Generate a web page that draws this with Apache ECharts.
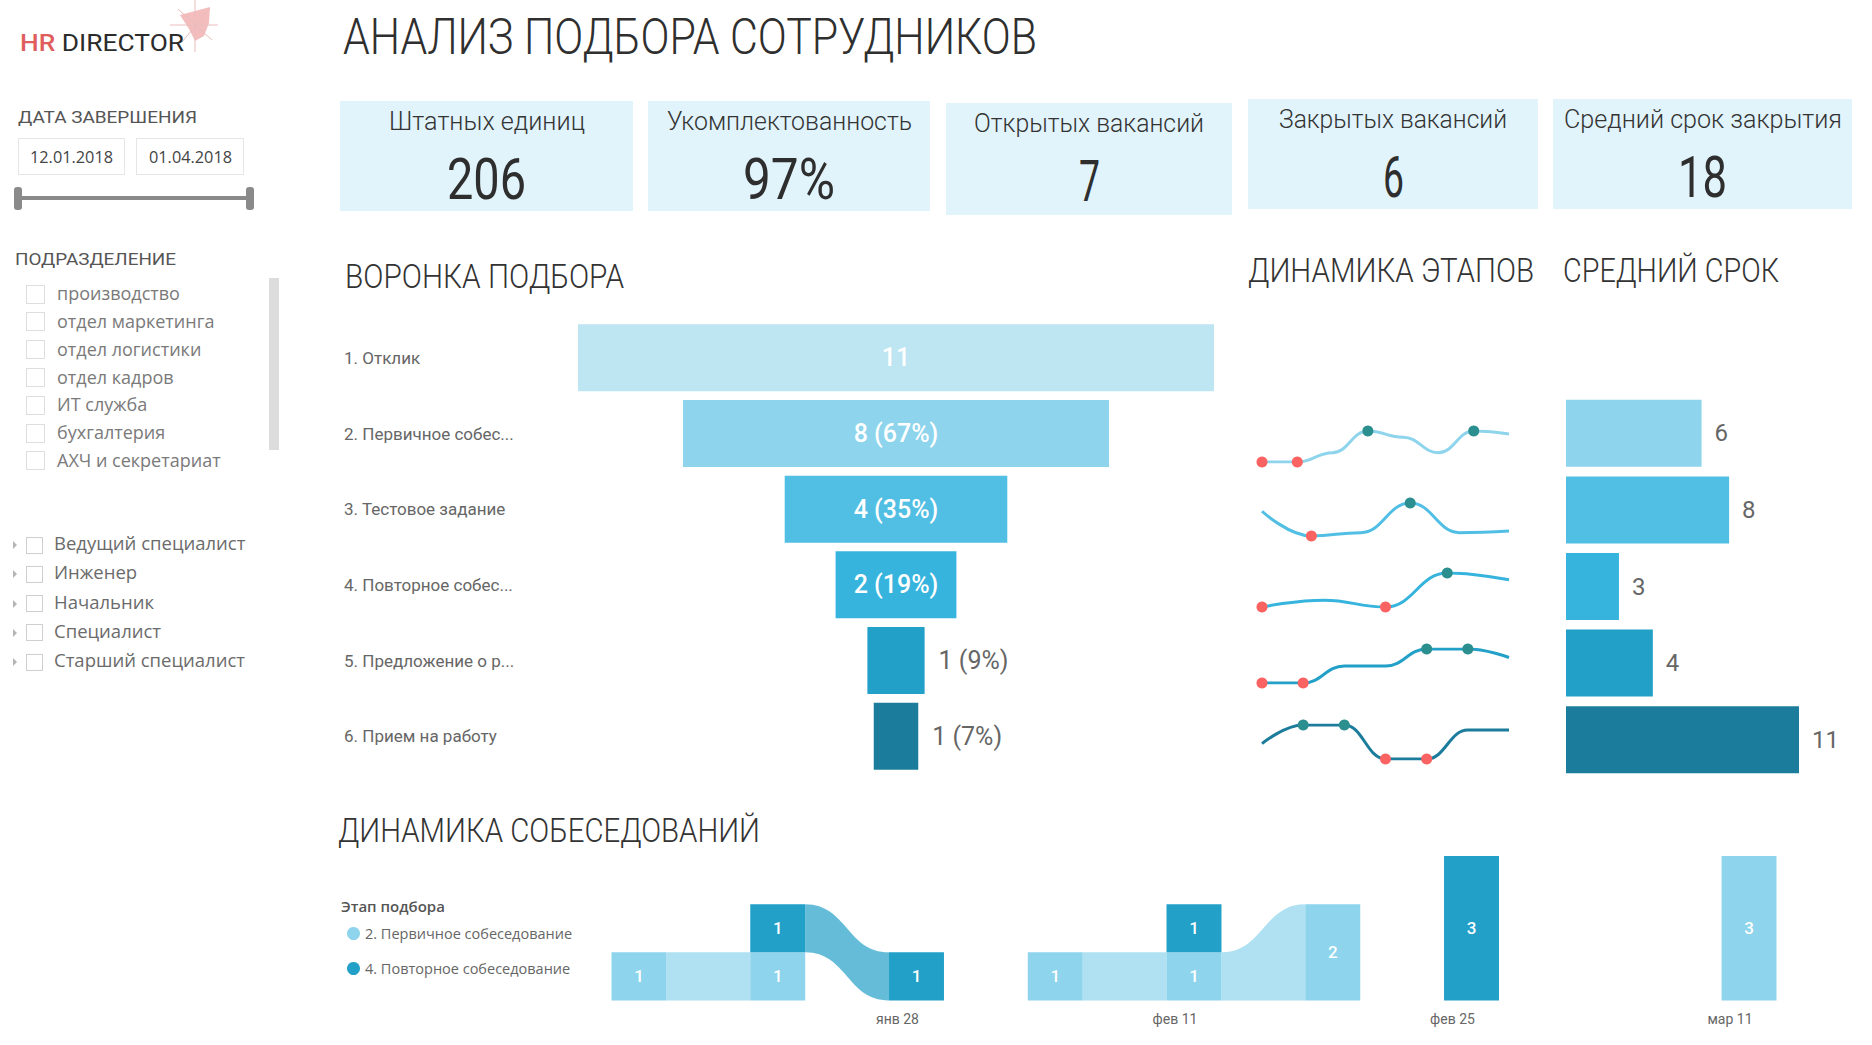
<!DOCTYPE html>
<html><head><meta charset="utf-8">
<script src="https://cdn.jsdelivr.net/npm/echarts@6/dist/echarts.min.js"></script>
<style>
html,body{margin:0;padding:0;background:#fff;width:1872px;height:1045px;overflow:hidden;font-family:Roboto,sans-serif}
#chart{position:absolute;left:0;top:0;width:1872px;height:1045px;z-index:0}
.t{position:absolute;white-space:nowrap;line-height:1;z-index:3}
.card{position:absolute;background:#e1f3fb;z-index:1}
.box{position:absolute;border:1px solid #e6e6e6;box-sizing:border-box;background:#fff;z-index:1}
.cb{position:absolute;box-sizing:border-box;background:#fff;z-index:2}
</style></head><body>
<div id="chart"></div>
<script>
// ---------- data ----------
const pageTitle = 'АНАЛИЗ ПОДБОРА СОТРУДНИКОВ';
const kpiLabels = ['Штатных единиц','Укомплектованность','Открытых вакансий','Закрытых вакансий','Средний срок закрытия'];
const kpiValues = ['206','97%','7','6','18'];
const dateFrom = '12.01.2018';
const dateTo = '01.04.2018';
const departments = ['производство','отдел маркетинга','отдел логистики','отдел кадров','ИТ служба','бухгалтерия','АХЧ и секретариат'];
const positions = ['Ведущий специалист','Инженер','Начальник','Специалист','Старший специалист'];
const stages = ['1. Отклик','2. Первичное собес...','3. Тестовое задание','4. Повторное собес...','5. Предложение о р...','6. Прием на работу'];
const funnelCounts = [11, 8, 4, 2, 1, 1];
const funnelPct = [100, 67, 35, 19, 9, 7];
const trendStage2 = [1, 1, 1.3, 2, 1.8, 1.3, 2, 1.9];
const trendStage3 = [1.75, 1, 1.1, 2, 1.1, 1.15];
const trendStage4 = [1, 1.2, 1, 2, 1.8];
const trendStage5 = [1, 1, 1.5, 1.5, 2, 2, 1.75];
const trendStage6 = [1.45, 2, 2, 1, 1, 1.85, 1.85];
const avgDays = [6.4, 7.7, 2.5, 4.1, 11];
const weeks = ['янв 14','янв 21','янв 28','фев 4','фев 11','фев 18','фев 25','мар 4','мар 11'];
const weekTickLabels = ['янв 28','фев 11','фев 25','мар 11'];
const interviewNames = ['2. Первичное собеседование','4. Повторное собеседование'];
const primaryInterviews = [1, 1, 0, 1, 1, 2, 0, 0, 3];
const repeatInterviews  = [0, 1, 1, 0, 1, 0, 3, 0, 0];

// ---------- styles ----------
const funnelColors = ['#bde5f2','#8dd4ec','#51bee3','#36b4de','#22a0c8','#1c7c9b'];
const interviewColors = ['#8dd4ec','#22a0c8'];

// ---------- html text ----------
function txt(s, o){
  const d = document.createElement('div');
  d.className = 't';
  d.textContent = s;
  d.style.fontSize = o.fs + 'px';
  d.style.color = o.c || '#333';
  d.style.fontWeight = o.w || 400;
  d.style.fontFamily = o.f || 'Roboto';
  document.body.appendChild(d);
  const nat = d.getBoundingClientRect().width;
  const k = o.tw ? o.tw / nat : (o.k || 1);
  d.style.transformOrigin = '0 0';
  d.style.transform = 'scaleX(' + k + ')';
  const w = nat * k;
  d.style.left = (o.align === 'center' ? o.x - w / 2 : o.x) + 'px';
  d.style.top = (o.cy - (o.vc || 0.49) * o.fs) + 'px';
  return d;
}
function rect(cls, x, y, w, h, extra){
  const d = document.createElement('div');
  d.className = cls;
  d.style.left = x + 'px'; d.style.top = y + 'px';
  d.style.width = w + 'px'; d.style.height = h + 'px';
  if (extra) Object.assign(d.style, extra);
  document.body.appendChild(d);
  return d;
}

// logo
(function(){
  const d = document.createElement('div');
  d.className = 't';
  d.innerHTML = '<span style="color:#e05d5d;font-weight:500">HR</span> <span style="color:#2b2b2b">DIRECTOR</span>';
  d.style.fontSize = '24px';
  d.style.fontFamily = 'Roboto';
  document.body.appendChild(d);
  const nat = d.getBoundingClientRect().width;
  d.style.transformOrigin = '0 0';
  d.style.transform = 'scaleX(' + (164 / nat) + ')';
  d.style.left = '20px';
  d.style.top = (43 - 0.49 * 24) + 'px';
  const svg = document.createElementNS('http://www.w3.org/2000/svg','svg');
  svg.setAttribute('width','60'); svg.setAttribute('height','60');
  svg.style.cssText = 'position:absolute;left:164px;top:0;z-index:2';
  svg.innerHTML = '<polygon points="16,15 46,7 45,23 40,36 31,41 25,29" fill="#ee9a9a" fill-opacity="0.65"/>' +
    '<line x1="31" y1="0" x2="31" y2="52" stroke="#e8bcbc" stroke-width="1"/>' +
    '<line x1="6" y1="25" x2="54" y2="25" stroke="#e8bcbc" stroke-width="1"/>' +
    '<line x1="14" y1="9" x2="48" y2="40" stroke="#e8bcbc" stroke-width="1"/>' +
    '<line x1="46" y1="8" x2="18" y2="42" stroke="#e8bcbc" stroke-width="1"/>';
  document.body.appendChild(svg);
})();

// sidebar
txt('ДАТА ЗАВЕРШЕНИЯ', {x:18, cy:117, fs:17, tw:179, c:'#555'});
rect('box', 18, 138, 107, 37);
rect('box', 136, 138, 108, 37);
txt(dateFrom, {x:71.5, cy:157, fs:16, tw:83, c:'#444', f:'Open Sans', align:'center', vc:0.53});
txt(dateTo, {x:190, cy:157, fs:16, tw:83, c:'#444', f:'Open Sans', align:'center', vc:0.53});
rect('cb', 17, 196, 235, 4, {background:'#8a8a8a', borderRadius:'2px'});
rect('cb', 14, 187, 8, 23, {background:'#8a8a8a', borderRadius:'3px'});
rect('cb', 246, 187, 8, 23, {background:'#8a8a8a', borderRadius:'3px'});

txt('ПОДРАЗДЕЛЕНИЕ', {x:15, cy:259, fs:17, tw:161, c:'#555'});
departments.forEach((name, i) => {
  const cy = 294 + i * 27.8;
  rect('cb', 26, cy - 9.5, 19, 19, {border:'1px solid #dedede'});
  txt(name, {x:57, cy:cy + 1, fs:18, c:'#7a7a7a', f:'Open Sans', vc:0.6});
});
rect('cb', 269, 278, 10, 172, {background:'#dcdcdc'});

positions.forEach((name, i) => {
  const cy = 545 + i * 29.3;
  rect('cb', 13, cy - 4, 0, 0, {borderTop:'4px solid transparent', borderBottom:'4px solid transparent', borderLeft:'4px solid #b5b5b5', background:'transparent'});
  rect('cb', 26, cy - 8.5, 17, 17, {border:'1px solid #cfcfcf'});
  txt(name, {x:54, cy:cy, fs:18.5, c:'#6b6b6b', f:'Open Sans', vc:0.6});
});

// title
txt(pageTitle, {x:343, cy:36, fs:50, tw:694, c:'#2f2f2f', w:300});

// KPI cards
const cards = [[340,101,293,110],[648,101,282,110],[946,103,286,112],[1248,99,290,110],[1553,99,299,110]];
const kpiLabelW = [196,245,230,228,278];
const kpiValueW = [79,92,21,21,49];
cards.forEach((c, i) => {
  rect('card', c[0], c[1], c[2], c[3]);
  const cx = c[0] + c[2] / 2;
  txt(kpiLabels[i], {x:cx, cy:c[1] + 20, fs:25, tw:kpiLabelW[i], c:'#333', w:300, align:'center'});
  txt(kpiValues[i], {x:cx, cy:c[1] + 78, fs:57, tw:kpiValueW[i], c:'#2e2e2e', w:400, align:'center'});
});

// section titles
txt('ВОРОНКА ПОДБОРА', {x:345, cy:276, fs:33, tw:279, c:'#333', w:300});
txt('ДИНАМИКА ЭТАПОВ', {x:1248, cy:270, fs:33, tw:286, c:'#333', w:300});
txt('СРЕДНИЙ СРОК', {x:1563, cy:270, fs:33, tw:216, c:'#333', w:300});
txt('ДИНАМИКА СОБЕСЕДОВАНИЙ', {x:338, cy:830, fs:33, tw:422, c:'#333', w:300});
txt('Этап подбора', {x:341, cy:907, fs:15, c:'#555', w:600, f:'Open Sans', vc:0.53});

// ---------- echarts ----------
const chart = echarts.init(document.getElementById('chart'), null, {renderer:'svg'});
const FF = 'Roboto';

const grids = [], xAxes = [], yAxes = [], series = [];
function addGrid(g){ grids.push(Object.assign({containLabel:false, outerBoundsMode:'none'}, g)); return grids.length - 1; }

// funnel
const gF = addGrid({left:578, top:320, width:636, height:454});
xAxes.push({gridIndex:gF, type:'value', min:0, max:100, show:false});
yAxes.push({gridIndex:gF, type:'category', data:stages, inverse:true,
  axisLine:{show:false}, axisTick:{show:false}, splitLine:{show:false},
  axisLabel:{align:'left', margin:234, color:'#666', fontSize:17, fontFamily:FF}});
series.push({type:'bar', xAxisIndex:0, yAxisIndex:0, stack:'funnel', silent:true, barWidth:67,
  itemStyle:{color:'rgba(0,0,0,0)'}, data: funnelPct.map(p => (100 - p) / 2)});
series.push({type:'bar', xAxisIndex:0, yAxisIndex:0, stack:'funnel', barWidth:67,
  data: funnelPct.map((p, i) => {
    const inside = p >= 15;
    return {value:p, itemStyle:{color:funnelColors[i]},
      label:{show:true, position: inside ? 'inside' : 'right', distance:14,
        color: inside ? '#fff' : '#666', fontSize:25, fontWeight: inside ? 500 : 400, fontFamily:FF,
        formatter: () => i === 0 ? String(funnelCounts[i]) : funnelCounts[i] + ' (' + p + '%)'}};
  })});

// sparklines
const trends = [trendStage2, trendStage3, trendStage4, trendStage5, trendStage6];
const sparkBoxes = [[431,31],[503,33],[573,34],[649,34],[725,34]];
trends.forEach((arr, k) => {
  const g = addGrid({left:1262, top:sparkBoxes[k][0], width:247, height:sparkBoxes[k][1]});
  xAxes.push({gridIndex:g, type:'category', boundaryGap:false, data:arr.map((v, i) => i), show:false});
  yAxes.push({gridIndex:g, type:'value', min:v => v.min, max:v => v.max, show:false});
  const mn = Math.min(...arr), mx = Math.max(...arr);
  series.push({type:'line', xAxisIndex:xAxes.length - 1, yAxisIndex:yAxes.length - 1,
    smooth:0.45, smoothMonotone:'x', showSymbol:true, symbol:'circle',
    lineStyle:{width:3, color:funnelColors[k + 1]}, itemStyle:{color:funnelColors[k + 1]},
    data: arr.map(v => {
      if (v === mn) return {value:v, symbolSize:11, itemStyle:{color:'#fb6262'}};
      if (v === mx) return {value:v, symbolSize:11, itemStyle:{color:'#2b8f8f'}};
      return {value:v, symbolSize:0};
    })});
});

// average duration bars
const gA = addGrid({left:1566, top:395, width:233, height:383});
xAxes.push({gridIndex:gA, type:'value', min:0, max:'dataMax', show:false});
yAxes.push({gridIndex:gA, type:'category', data:stages.slice(1), inverse:true, show:false});
series.push({type:'bar', xAxisIndex:xAxes.length - 1, yAxisIndex:yAxes.length - 1, barWidth:67,
  data: avgDays.map((v, i) => ({value:v, itemStyle:{color:funnelColors[i + 1]}})),
  label:{show:true, position:'right', distance:13, color:'#666', fontSize:24, fontFamily:FF,
    formatter: p => String(Math.round(p.value))}});

// ribbon chart
const gR = addGrid({left:569.6, top:856, width:1248.8, height:144.5});
xAxes.push({gridIndex:gR, type:'category', data:weeks,
  axisLine:{show:false}, axisTick:{show:false},
  axisLabel:{interval:0, margin:11, color:'#666', fontSize:14, fontFamily:FF, padding:[0,38,0,0],
    formatter: v => weekTickLabels.indexOf(v) >= 0 ? v : ''}});
yAxes.push({gridIndex:gR, type:'value', min:0, max:3, show:false});
const xR = xAxes.length - 1, yR = yAxes.length - 1;
const interviewValues = [primaryInterviews, repeatInterviews];
function stackBase(s, i){
  let b = 0;
  const vs = interviewValues[s][i];
  interviewValues.forEach((arr, o) => {
    if (o === s || arr[i] <= 0) return;
    if (arr[i] < vs || (arr[i] === vs && o < s)) b += arr[i];
  });
  return b;
}
function ribbon(s){
  return {
    type:'custom', name:interviewNames[s], xAxisIndex:xR, yAxisIndex:yR,
    itemStyle:{color:interviewColors[s]},
    encode:{x:0, y:1},
    data: weeks.map((w, i) => [i, interviewValues[s][i]]),
    renderItem: (params, api) => {
      const i = params.dataIndex;
      const vals = interviewValues[s];
      const v = vals[i];
      const children = [];
      const band = api.size([1, 0])[0];
      const cw = band * 0.396;
      if (v > 0) {
        const b = stackBase(s, i);
        const p0 = api.coord([i, b]), p1 = api.coord([i, b + v]);
        if (i + 1 < vals.length && vals[i + 1] > 0) {
          const b2 = stackBase(s, i + 1);
          const q0 = api.coord([i + 1, b2]), q1 = api.coord([i + 1, b2 + vals[i + 1]]);
          const x1 = p0[0] + cw / 2, x2 = q0[0] - cw / 2, mx = (x1 + x2) / 2;
          const d = 'M' + x1 + ' ' + p1[1] + ' C' + mx + ' ' + p1[1] + ' ' + mx + ' ' + q1[1] + ' ' + x2 + ' ' + q1[1] +
            ' L' + x2 + ' ' + q0[1] + ' C' + mx + ' ' + q0[1] + ' ' + mx + ' ' + p0[1] + ' ' + x1 + ' ' + p0[1] + ' Z';
          children.push({type:'path', shape:{pathData:d}, style:{fill:interviewColors[s], opacity:0.7}});
        }
        children.push({type:'rect', shape:{x:p0[0] - cw / 2, y:p1[1], width:cw, height:p0[1] - p1[1]},
          style:{fill:interviewColors[s]}});
        children.push({type:'text', style:{text:String(v), x:p0[0], y:(p0[1] + p1[1]) / 2,
          align:'center', verticalAlign:'middle', fill:'#fff', fontSize:17, fontWeight:500, fontFamily:FF}});
      }
      return {type:'group', children};
    }
  };
}
series.push(ribbon(0));
series.push(ribbon(1));

chart.setOption({
  animation:false,
  grid:grids, xAxis:xAxes, yAxis:yAxes, series:series,
  legend:{show:true, data:interviewNames, orient:'vertical', left:342, top:921,
    icon:'circle', itemWidth:13, itemHeight:13, itemGap:20, selectedMode:false,
    textStyle:{color:'#666', fontSize:14.5, fontFamily:'Open Sans'}}
});
</script>
</body></html>
